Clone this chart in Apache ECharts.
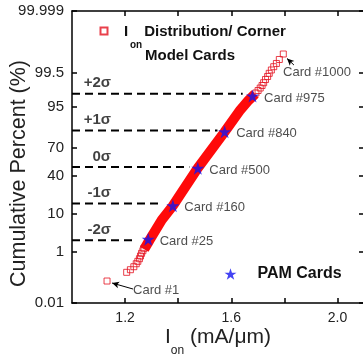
<!DOCTYPE html>
<html><head><meta charset="utf-8">
<script src="https://cdn.jsdelivr.net/npm/echarts@6/dist/echarts.min.js"></script>
<style>html,body{margin:0;padding:0;background:#fff;}#c{width:363px;height:354px;}</style>
</head><body><div id="c"></div>
<script>
// ---- tick labels ----
const yTickPercents = [0.01, 1, 10, 40, 70, 95, 99.5, 99.999];   // cumulative percent
const xTickLabels = [1.2, 1.6, 2.0];
const xTickValues = [1.2, 1.4, 1.6, 1.8, 2.0];

// ---- Ion distribution: individually visible squares (tails), sigma units ----
const distIon   = [1.132, 1.206, 1.220, 1.233, 1.242, 1.248, 1.254, 1.258, 1.262, 1.267, 1.271,
                   1.693, 1.701, 1.709, 1.716, 1.722, 1.729, 1.737, 1.743, 1.751, 1.760, 1.770, 1.781, 1.796];
const distSigma = [-3.118, -2.880, -2.809, -2.727, -2.645, -2.580, -2.508, -2.434, -2.361, -2.290, -2.224,
                   2.023, 2.091, 2.159, 2.228, 2.304, 2.392, 2.474, 2.561, 2.652, 2.742, 2.830, 2.939, 3.089];
// dense central part of the distribution (centre of the solid band)
const bandIon   = [1.272, 1.292, 1.338, 1.380, 1.474, 1.575, 1.634, 1.666, 1.690];
const bandSigma = [-2.25, -2.00, -1.45, -1.06, -0.03, 0.96, 1.56, 1.83, 2.00];

// ---- PAM cards ----
const pamCards = ['Card #25', 'Card #160', 'Card #500', 'Card #840', 'Card #975'];
const pamIon   = [1.287, 1.380, 1.474, 1.575, 1.680];
const pamSigma = [-1.978, -1.059, -0.036, 0.965, 1.941];

// ---- sigma reference lines ----
const sigmaLevels  = [2, 1, 0, -1, -2];
const sigmaLabels  = ['+2σ', '+1σ', '0σ', '-1σ', '-2σ'];
const sigmaLineEnd = [1.643, 1.548, 1.442, 1.330, 1.244];

// ---- end-card annotations ----
const endCards     = ['Card #1000', 'Card #1'];
const endCardIon   = [1.795, 1.230];
const endCardSigma = [2.597, -3.364];

function probit(p) {
  const a=[-3.969683028665376e+01,2.209460984245205e+02,-2.759285104469687e+02,1.383577518672690e+02,-3.066479806614716e+01,2.506628277459239e+00];
  const b=[-5.447609879822406e+01,1.615858368580409e+02,-1.556989798598866e+02,6.680131188771972e+01,-1.328068155288572e+01];
  const c=[-7.784894002430293e-03,-3.223964580411365e-01,-2.400758277161838e+00,-2.549732539343734e+00,4.374664141464968e+00,2.938163982698783e+00];
  const d=[7.784695709041462e-03,3.224671290700398e-01,2.445134137142996e+00,3.754408661907416e+00];
  const pl=0.02425, ph=1-pl; let q, r;
  if (p < pl) { q=Math.sqrt(-2*Math.log(p)); return (((((c[0]*q+c[1])*q+c[2])*q+c[3])*q+c[4])*q+c[5])/((((d[0]*q+d[1])*q+d[2])*q+d[3])*q+1); }
  if (p <= ph) { q=p-0.5; r=q*q; return (((((a[0]*r+a[1])*r+a[2])*r+a[3])*r+a[4])*r+a[5])*q/(((((b[0]*r+b[1])*r+b[2])*r+b[3])*r+b[4])*r+1); }
  q=Math.sqrt(-2*Math.log(1-p)); return -(((((c[0]*q+c[1])*q+c[2])*q+c[3])*q+c[4])*q+c[5])/((((d[0]*q+d[1])*q+d[2])*q+d[3])*q+1);
}
const yTickZ = yTickPercents.map(p => probit(p / 100));
const yMin = yTickZ[0], yMax = yTickZ[yTickZ.length - 1];
function yLabel(v) {
  let best = 0;
  yTickZ.forEach((z, i) => { if (Math.abs(z - v) < Math.abs(yTickZ[best] - v)) best = i; });
  return String(yTickPercents[best]);
}

const FONT = 'Liberation Sans, Arial, sans-serif';
const TXT = '#222';
const axisLine = { show: true, onZero: false, lineStyle: { color: '#000', width: 1.5 } };
const tickIn = (vals) => ({ show: true, inside: true, length: 5, lineStyle: { color: '#000', width: 1.5 }, customValues: vals });
const starPath = 'path://M50,0 L61.8,35.1 L98.9,35.1 L68.9,57 L80.3,92.1 L50,70.4 L19.7,92.1 L31.1,57 L1.1,35.1 L38.2,35.1 Z';
const RED = '#e3101e';

const series = [];
series.push({
  type: 'line', name: 'band', data: bandIon.map((x, i) => [x, bandSigma[i]]),
  symbol: 'none', lineStyle: { color: '#ff0a0a', width: 10 }, z: 2, silent: true
});
sigmaLevels.forEach((s, i) => {
  series.push({
    type: 'line', data: [[1.0, s], [sigmaLineEnd[i], s]], symbol: 'none', silent: true,
    lineStyle: { color: '#000', width: 2, type: [8, 5] }, z: 1
  });
});
series.push({
  type: 'scatter', name: 'dist', data: distIon.map((x, i) => [x, distSigma[i]]),
  symbol: 'rect', symbolSize: 6,
  itemStyle: { color: 'rgba(255,255,255,0)', borderColor: RED, borderWidth: 1 }, z: 3
});
series.push({
  type: 'scatter', name: 'PAM Cards', data: pamIon.map((x, i) => [x, pamSigma[i]]),
  symbol: starPath, symbolSize: 13, itemStyle: { color: '#1414f0' }, z: 5,
  label: { show: true, position: 'right', distance: 5, offset: [0, 2], fontSize: 13, color: TXT, fontFamily: FONT,
    formatter: p => pamCards[p.dataIndex] }
});
series.push({
  type: 'scatter', name: 'sigmaText', data: sigmaLevels.map(s => [1.147, s]),
  symbolSize: 0, silent: true, z: 4,
  label: { show: true, position: 'top', distance: 3, align: 'right', fontSize: 15, fontWeight: 'bold', color: '#111', fontFamily: FONT,
    formatter: p => sigmaLabels[p.dataIndex] }
});
series.push({
  type: 'scatter', name: 'endText', data: endCardIon.map((x, i) => [x, endCardSigma[i]]),
  symbolSize: 0, silent: true, z: 4,
  label: { show: true, position: 'right', distance: 0, fontSize: 13, color: TXT, fontFamily: FONT,
    formatter: p => endCards[p.dataIndex] },
  markLine: {
    silent: true, symbol: ['none', 'arrow'], symbolSize: [5, 7],
    lineStyle: { color: '#000', width: 1, type: 'solid' }, label: { show: false },
    data: [
      [{ coord: [1.836, 2.788] }, { coord: [1.810, 2.966] }],
      [{ coord: [1.2298, -3.337] }, { coord: [1.151, -3.173] }]
    ]
  }
});

const LB = { fontSize: 15, fontWeight: 'bold', color: '#111', fontFamily: FONT };
const chart = echarts.init(document.getElementById('c'), null, { renderer: 'canvas' });
chart.setOption({
  animation: false,
  backgroundColor: '#fff',
  textStyle: { fontFamily: FONT },
  grid: { left: 72, right: -1, top: 11, bottom: 51, outerBoundsMode: 'none', containLabel: false },
  legend: [
    {
      data: [{ name: 'dist' }], left: 94.5, top: 19, itemWidth: 7, itemHeight: 7, selectedMode: false,
      formatter: () => '{I|I}{g|}{t|Distribution/ Corner}\n{p1|}{sub|on}\n{p2|}{t2|Model Cards}',
      textStyle: {
        padding: [23, 0, 0, 11.5],
        rich: {
          I: Object.assign({ lineHeight: 19 }, LB),
          g: { width: 16, lineHeight: 19 },
          t: Object.assign({ lineHeight: 19 }, LB),
          p1: { width: 6, lineHeight: 8 },
          sub: { fontSize: 10, fontWeight: 'bold', color: '#111', lineHeight: 8, fontFamily: FONT },
          p2: { width: 21, lineHeight: 14 },
          t2: Object.assign({ lineHeight: 14 }, LB)
        }
      }
    },
    {
      data: ['PAM Cards'], left: 219.5, top: 260, itemWidth: 12, itemHeight: 12, selectedMode: false,
      textStyle: { fontSize: 16, fontWeight: 'bold', color: '#111', padding: [0, 0, 0, 16], lineHeight: 18, fontFamily: FONT }
    }
  ],
  xAxis: [
    {
      type: 'value', position: 'bottom', min: 1.0, max: 2.1,
      axisLine, splitLine: { show: false },
      axisTick: tickIn(xTickValues),
      axisLabel: { customValues: xTickLabels, formatter: v => v.toFixed(1), fontSize: 14, color: TXT, margin: 8, fontFamily: FONT },
      name: '{I|I}{sub|on}{t| (mA/μm)}', nameLocation: 'middle', nameGap: 22, nameMoveOverlap: false,
      nameTextStyle: {
        rich: {
          I: { fontSize: 21, color: TXT, lineHeight: 24, fontFamily: FONT },
          sub: { fontSize: 12, color: TXT, lineHeight: 12, padding: [27, 0, 0, 0], fontFamily: FONT },
          t: { fontSize: 21, color: TXT, lineHeight: 24, fontFamily: FONT }
        }
      }
    },
    {
      type: 'value', position: 'top', min: 1.0, max: 2.1,
      axisLine, splitLine: { show: false }, axisTick: tickIn(xTickValues), axisLabel: { show: false }
    }
  ],
  yAxis: [
    {
      type: 'value', position: 'left', min: yMin, max: yMax,
      axisLine, splitLine: { show: false },
      axisTick: tickIn(yTickZ),
      axisLabel: { customValues: yTickZ, formatter: yLabel, fontSize: 15, color: TXT, margin: 8, fontFamily: FONT },
      name: 'Cumulative Percent (%)', nameLocation: 'middle', nameGap: 42, nameMoveOverlap: false,
      nameTextStyle: { fontSize: 21.5, color: TXT, padding: [0, 33, 0, 0], fontFamily: FONT }
    },
    {
      type: 'value', position: 'right', min: yMin, max: yMax,
      axisLine, splitLine: { show: false }, axisTick: tickIn(yTickZ), axisLabel: { show: false }
    }
  ],
  series
});
</script></body></html>
